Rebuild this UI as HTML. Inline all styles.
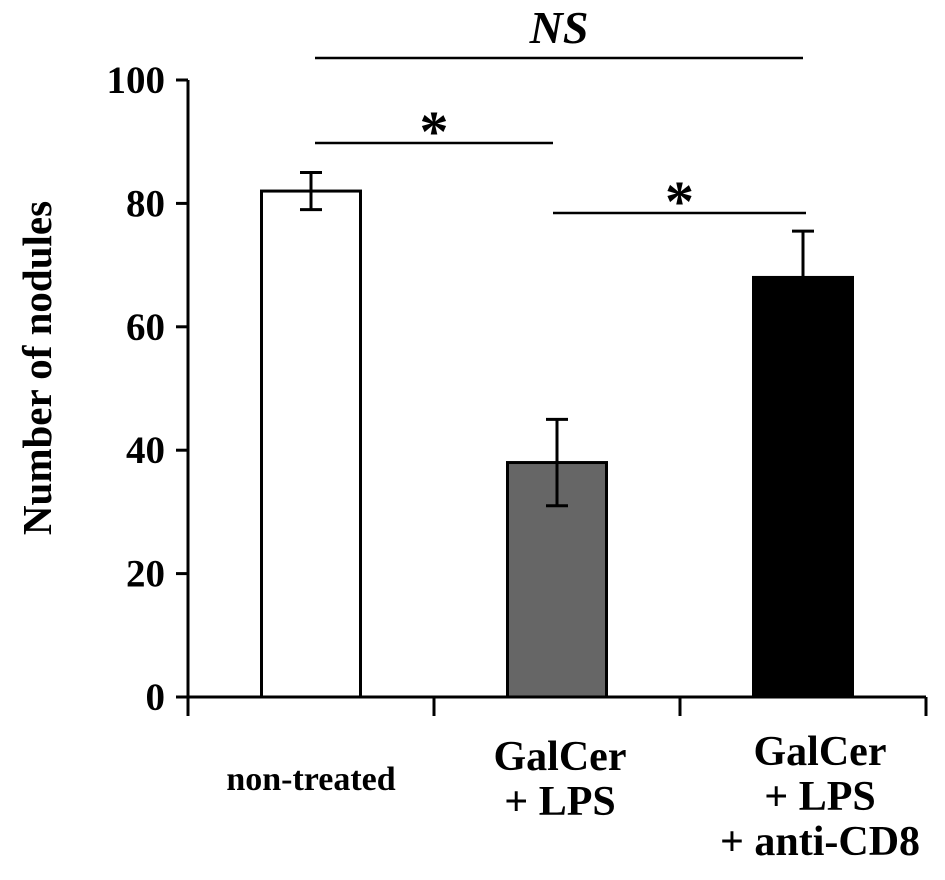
<!DOCTYPE html>
<html><head><meta charset="utf-8"><style>
html,body{margin:0;padding:0;background:#fff;}
svg text{font-family:"Liberation Serif",serif;font-weight:bold;fill:#000;}
</style></head><body>
<svg id="chart" width="945" height="875" xmlns="http://www.w3.org/2000/svg">
<g id="axes"></g><g id="bars"></g><g id="sig"></g>
</svg>
<script>
const categories = [["non-treated"], ["GalCer","+ LPS"], ["GalCer","+ LPS","+ anti-CD8"]];
const values = [82, 38, 68];
const errLow = [79, 31, 61];
const errHigh = [85, 45, 75.5];
const fills = ["#ffffff", "#666666", "#000000"];
const yTicks = [0, 20, 40, 60, 80, 100];
const NS = "http://www.w3.org/2000/svg";
const x0 = 188, catW = 246, barW = 99, y0 = 697, pxPerUnit = 6.17;
const labelShift = [0, 3, 17];
const y = v => y0 - v * pxPerUnit;
const xc = i => x0 + catW * i + catW / 2;
function mk(tag, attrs, parent, text) {
  const e = document.createElementNS(NS, tag);
  for (const k in attrs) e.setAttribute(k, attrs[k]);
  if (text !== undefined) e.textContent = text;
  document.getElementById(parent).appendChild(e);
  return e;
}
let e;
e = mk("line", {x1: x0, y1: y(100), x2: x0, y2: y0, stroke: "#000", "stroke-width": 3}, "axes");


e = mk("line", {x1: 176, y1: y0, x2: x0 + catW * 3, y2: y0, stroke: "#000", "stroke-width": 3}, "axes");


yTicks.forEach(t => {
  e = mk("line", {x1: 176, y1: y(t), x2: x0, y2: y(t), stroke: "#000", "stroke-width": 3}, "axes");
  
  
  e = mk("text", {x: 165, y: y(t) + 13, "text-anchor": "end", "font-size": 39}, "axes", t);
  
  
});
for (let i = 0; i <= 3; i++) {
  e = mk("line", {x1: x0 + catW * i, y1: y0, x2: x0 + catW * i, y2: 716, stroke: "#000", "stroke-width": 3}, "axes");
  
  
}
e = mk("text", {x: 0, y: 0, "text-anchor": "middle", "font-size": 41, transform: "translate(51,368) rotate(-90)"}, "axes", "Number of nodules");


categories.forEach((lines, i) => {
  const startY = lines.length === 1 ? 790 : (lines.length === 2 ? 770 : 765);
  lines.forEach((ln, j) => {
    e = mk("text", {x: xc(i) + labelShift[i], y: startY + j * 45, "text-anchor": "middle", "font-size": lines.length === 1 ? 34 : 42}, "axes", ln);
    
    
  });
});
values.forEach((v, i) => {
  const bx = xc(i) - barW / 2;
  e = mk("rect", {x: bx, y: y(v), width: barW, height: y0 - y(v), fill: fills[i], stroke: "#000", "stroke-width": 3}, "bars");
  
  
  const cx = bx + barW / 2;
  e = mk("path", {d: `M${cx},${y(errLow[i])}V${y(errHigh[i])}M${cx-11},${y(errHigh[i])}H${cx+11}M${cx-11},${y(errLow[i])}H${cx+11}`, stroke: "#000", "stroke-width": 3, fill: "none"}, "bars");
  
  
});
const sigs = [[315, 803, 58, "NS", 46, true], [315, 553, 143, "*", 58, false], [553, 806, 213, "*", 58, false]];
sigs.forEach(s => {
  e = mk("line", {x1: s[0], y1: s[2], x2: s[1], y2: s[2], stroke: "#000", "stroke-width": 2.5}, "sig");
  
  
  const t = mk("text", {x: (s[0] + s[1]) / 2, y: s[5] ? s[2] - 15 : s[2] + 8, "text-anchor": "middle", "font-size": s[4], "font-style": s[5] ? "italic" : "normal"}, "sig", s[3]);
  
  
});
</script>
</body></html>
